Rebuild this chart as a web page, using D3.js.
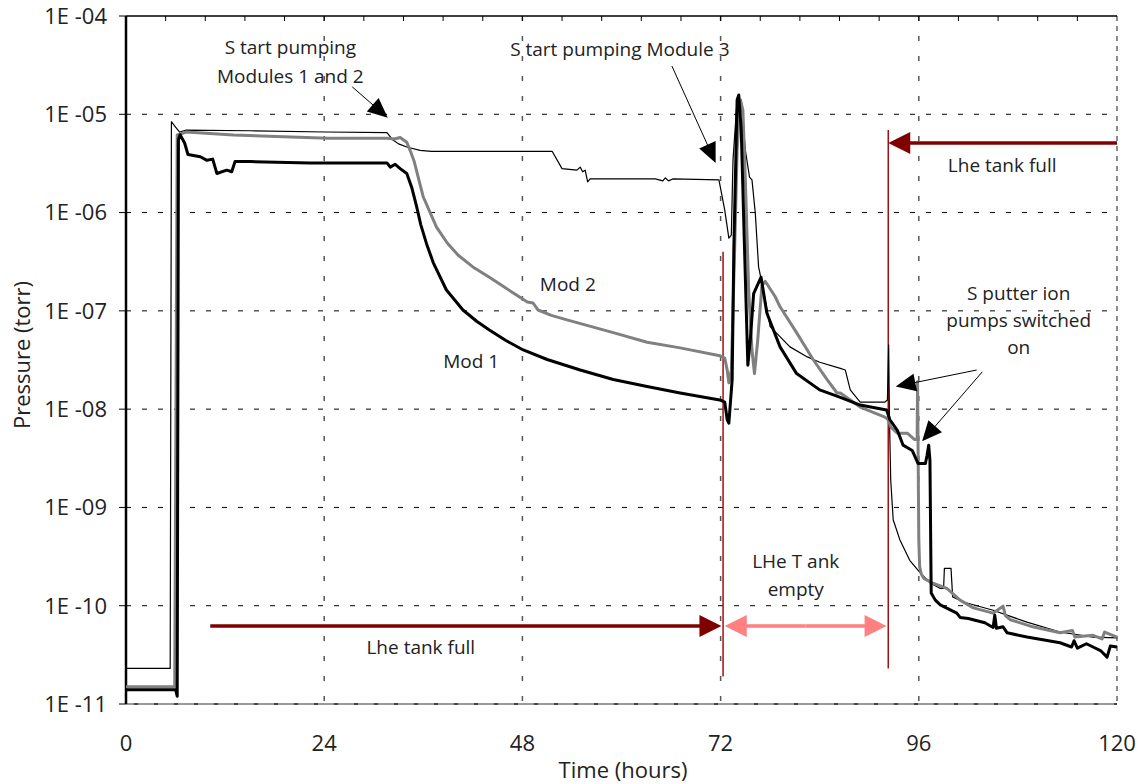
<!DOCTYPE html>
<html>
<head>
<meta charset="utf-8">
<script src="https://cdn.jsdelivr.net/npm/d3@7"></script>
<style>
body { margin: 0; background: #fff; }
text { font-family: "Open Sans", sans-serif; fill: #222; }
</style>
</head>
<body>
<script>
// hours vs pressure (torr)
var mod1 = [[0,1.4e-11],[6.0,1.4e-11],[6.2,1.2e-11],[6.35,5.5e-6],[6.55,6.2e-6],[7.1,5.1e-6],[7.5,3.9e-6],[9.0,3.7e-6],[9.8,3.4e-6],[10.5,3.5e-6],[11.0,2.5e-6],[12.2,2.7e-6],[12.8,2.6e-6],[13.2,3.3e-6],[15.1,3.3e-6],[22.3,3.2e-6],[31.6,3.2e-6],[32.0,2.9e-6],[32.6,3.1e-6],[33.2,2.8e-6],[34.0,2.5e-6],[34.6,1.8e-6],[35.2,1.14e-6],[35.7,7.5e-7],[36.4,4.8e-7],[37.2,3.1e-7],[38.8,1.63e-7],[40.8,1.02e-7],[42.5,7.8e-8],[44.0,6.4e-8],[46.0,5.0e-8],[48.1,4.0e-8],[51.0,3.2e-8],[55.0,2.5e-8],[59.0,2.0e-8],[63.1,1.7e-8],[67.1,1.46e-8],[71.9,1.24e-8],[72.5,1.18e-8],[72.8,7.8e-9],[73.0,7.2e-9],[73.4,2.0e-8],[73.6,4.2e-7],[74.0,1.4e-5],[74.2,1.57e-5],[74.5,6.9e-6],[74.9,4.2e-7],[75.3,2.8e-8],[75.6,5.1e-8],[76.0,1.5e-7],[76.9,2.2e-7],[77.6,9.5e-8],[79.2,4.3e-8],[81.2,2.3e-8],[84.0,1.57e-8],[86.5,1.32e-8],[88.9,1.1e-8],[92.1,9.8e-9],[92.5,7.8e-9],[93.4,6.1e-9],[94.1,4.3e-9],[95.2,3.8e-9],[95.9,2.8e-9],[96.8,2.8e-9],[97.0,3.4e-9],[97.2,4.3e-9],[97.35,3.0e-9],[97.5,1.35e-10],[98.0,1.14e-10],[98.6,1.02e-10],[100.6,8.4e-11],[101.0,7.6e-11],[102.0,7.4e-11],[104.0,6.7e-11],[105.0,6.0e-11],[105.2,8.0e-11],[105.4,5.9e-11],[106.2,6.1e-11],[106.7,5.3e-11],[109.1,4.8e-11],[113.1,4.2e-11],[114.5,3.8e-11],[114.8,4.4e-11],[115.2,3.7e-11],[116.3,4.1e-11],[117.1,3.8e-11],[118.0,3.5e-11],[118.8,3.0e-11],[119.2,3.9e-11],[120,3.8e-11]];

var mod2 = [[0,1.5e-11],[5.9,1.5e-11],[6.2,6.15e-6],[7.3,6.6e-6],[13.0,6.15e-6],[24.5,5.7e-6],[31.6,5.7e-6],[32.5,5.6e-6],[33.2,5.8e-6],[34.0,5.2e-6],[34.4,4.3e-6],[34.9,3.3e-6],[36.0,1.44e-6],[37.6,7.1e-7],[38.9,4.9e-7],[40.2,3.7e-7],[42.0,2.8e-7],[44.0,2.2e-7],[46.9,1.52e-7],[48.6,1.23e-7],[49.3,1.2e-7],[49.9,1.02e-7],[51.5,9.0e-8],[53.4,8.1e-8],[59.0,6.0e-8],[63.1,4.8e-8],[67.1,4.2e-8],[71.9,3.5e-8],[72.5,3.3e-8],[72.8,2.5e-8],[73.0,1.85e-8],[73.3,2.5e-8],[73.7,4.2e-7],[74.0,4.3e-6],[74.4,1.4e-5],[74.7,1.1e-5],[75.0,2.1e-6],[75.4,1.63e-7],[75.8,4.0e-8],[76.1,2.3e-8],[76.5,5.1e-8],[77.0,1.8e-7],[77.4,2.0e-7],[78.6,1.4e-7],[79.2,1.1e-7],[81.2,6.0e-8],[83.2,3.2e-8],[84.9,2.0e-8],[86.1,1.46e-8],[86.5,1.46e-8],[88.9,1.05e-8],[91.9,8.3e-9],[92.3,7.8e-9],[92.6,6.6e-9],[93.4,5.7e-9],[94.6,5.7e-9],[95.5,4.9e-9],[95.8,4.9e-9],[95.85,1.9e-8],[96.0,4.7e-10],[96.1,2.5e-10],[96.3,2.1e-10],[96.6,1.9e-10],[97.7,1.7e-10],[99.4,1.5e-10],[101.0,1.14e-10],[102.6,9.5e-11],[105.0,8.4e-11],[106.2,9.9e-11],[106.5,7.9e-11],[107.1,7.2e-11],[109.8,6.1e-11],[113.1,5.3e-11],[114.6,5.6e-11],[114.9,4.8e-11],[117.1,5.0e-11],[118.2,4.6e-11],[118.5,5.4e-11],[120,4.8e-11]];

var mod3 = [[0,2.3e-11],[5.35,2.3e-11],[5.5,8.4e-6],[6.0,7.4e-6],[6.5,6.6e-6],[7.3,6.9e-6],[15,6.8e-6],[24.2,6.6e-6],[31.6,6.5e-6],[32.3,5.5e-6],[33.0,5.0e-6],[34.0,4.65e-6],[35.6,4.3e-6],[37.0,4.2e-6],[51.6,4.2e-6],[52.8,2.8e-6],[54.6,2.7e-6],[55.0,2.9e-6],[55.3,2.6e-6],[55.6,2.7e-6],[55.9,2.05e-6],[56.2,2.2e-6],[64.1,2.2e-6],[65.0,2.1e-6],[65.3,2.25e-6],[65.7,2.1e-6],[66.2,2.2e-6],[71.8,2.15e-6],[72.5,1.06e-6],[73.0,5.5e-7],[73.3,5.9e-7],[73.5,3.4e-6],[74.0,1.4e-5],[74.5,1.4e-5],[75.0,4.3e-6],[75.5,2.3e-6],[75.8,2.15e-6],[76.2,9.9e-7],[76.6,2.8e-7],[77.1,1.75e-7],[78.0,6.9e-8],[80.4,4.3e-8],[82.5,3.4e-8],[84.0,3.0e-8],[86.5,2.6e-8],[87.1,2.5e-8],[87.7,1.57e-8],[88.9,1.18e-8],[91.9,1.18e-8],[92.2,1.24e-8],[92.35,4.5e-8],[92.45,7.8e-9],[92.6,1.9e-9],[92.9,7.5e-10],[93.7,4.7e-10],[94.9,2.9e-10],[96.1,2.2e-10],[97.4,1.7e-10],[98.6,1.5e-10],[99.0,1.5e-10],[99.1,2.4e-10],[99.9,2.4e-10],[100.1,1.23e-10],[101.4,1.09e-10],[105.0,9.0e-11],[109.1,6.8e-11],[113.1,5.4e-11],[117.1,4.8e-11],[120,4.7e-11]];

var xTicks = [0, 24, 48, 72, 96, 120];
var yTicks = [1e-4, 1e-5, 1e-6, 1e-7, 1e-8, 1e-9, 1e-10, 1e-11];
var yLabels = ['1E -04', '1E -05', '1E -06', '1E -07', '1E -08', '1E -09', '1E -10', '1E -11'];

// tank state markers (hours)
var tankEmptyStart = 72.3, tankEmptyEnd = 92.3;

var W = 1141, H = 784;
var svg = d3.select('body').append('svg').attr('width', W).attr('height', H);

var x = d3.scaleLinear().domain([0, 120]).range([126, 1117]);
var y = d3.scaleLog().domain([1e-11, 1e-4]).range([704, 16]);

// grid
svg.append('g').selectAll('line').data(yTicks.slice(1, 7)).enter().append('line')
    .attr('x1', x(0)).attr('x2', x(120))
    .attr('y1', function(d) { return y(d); }).attr('y2', function(d) { return y(d); })
    .attr('stroke', '#000').attr('stroke-width', 1).attr('stroke-dasharray', '5,11');

svg.append('g').selectAll('line').data([24, 48, 72, 96]).enter().append('line')
    .attr('x1', function(d) { return x(d); }).attr('x2', function(d) { return x(d); })
    .attr('y1', y(1e-4)).attr('y2', y(1e-11))
    .attr('stroke', '#555').attr('stroke-width', 1.5).attr('stroke-dasharray', '5,15');

// frame
svg.append('line').attr('x1', x(120)).attr('x2', x(120)).attr('y1', y(1e-4)).attr('y2', y(1e-11))
    .attr('stroke', '#666').attr('stroke-width', 1.5).attr('stroke-dasharray', '5,5');
svg.append('line').attr('x1', x(0)).attr('x2', x(120)).attr('y1', y(1e-11)).attr('y2', y(1e-11))
    .attr('stroke', '#999').attr('stroke-width', 2);
svg.append('line').attr('x1', x(0)).attr('x2', x(120)).attr('y1', y(1e-11)).attr('y2', y(1e-11))
    .attr('stroke', '#444').attr('stroke-width', 2).attr('stroke-dasharray', '4,16').attr('stroke-dashoffset', -8);
svg.append('line').attr('x1', x(0)).attr('x2', x(120)).attr('y1', y(1e-4)).attr('y2', y(1e-4))
    .attr('stroke', '#000').attr('stroke-width', 1.5);
svg.append('g').selectAll('line').data(d3.range(4.8, 120, 4.8)).enter().append('line')
    .attr('x1', function(d) { return x(d); }).attr('x2', function(d) { return x(d); })
    .attr('y1', y(1e-4)).attr('y2', y(1e-4) + 5)
    .attr('stroke', '#000').attr('stroke-width', 1);
svg.append('line').attr('x1', x(0)).attr('x2', x(0)).attr('y1', y(1e-4)).attr('y2', y(1e-11))
    .attr('stroke', '#000').attr('stroke-width', 2.5);

// axes labels
var yl = svg.append('g');
yl.selectAll('line').data(yTicks).enter().append('line')
    .attr('x1', x(0) - 7).attr('x2', x(0))
    .attr('y1', function(d) { return y(d); }).attr('y2', function(d) { return y(d); })
    .attr('stroke', '#000').attr('stroke-width', 1);
yl.selectAll('text').data(yTicks).enter().append('text')
    .attr('x', x(0) - 19).attr('y', function(d) { return y(d); }).attr('dy', '0.36em')
    .attr('text-anchor', 'end').style('font-size', '22px')
    .text(function(d, i) { return yLabels[i]; });

svg.append('g').selectAll('text').data(xTicks).enter().append('text')
    .attr('x', function(d) { return x(d); }).attr('y', 751)
    .attr('text-anchor', 'middle').style('font-size', '22px')
    .text(function(d) { return d; });

svg.append('text').attr('x', 623).attr('y', 778).attr('text-anchor', 'middle')
    .style('font-size', '22px').text('Time (hours)');
svg.append('text').attr('transform', 'translate(30,355) rotate(-90)').attr('text-anchor', 'middle')
    .style('font-size', '22px').text('Pressure (torr)');

// tank boundary lines
svg.append('line').attr('x1', x(tankEmptyStart)).attr('x2', x(tankEmptyStart))
    .attr('y1', y(4.0e-7)).attr('y2', y(1.9e-11)).attr('stroke', '#a01010').attr('stroke-width', 1.5);
svg.append('line').attr('x1', x(tankEmptyEnd)).attr('x2', x(tankEmptyEnd))
    .attr('y1', y(6.9e-6)).attr('y2', y(2.3e-11)).attr('stroke', '#a01010').attr('stroke-width', 1.5);

// series
var line = d3.line().x(function(d) { return x(d[0]); }).y(function(d) { return y(d[1]); });
svg.append('path').datum(mod3).attr('d', line).attr('fill', 'none')
    .attr('stroke', '#000').attr('stroke-width', 1.2).attr('stroke-linejoin', 'round');
svg.append('path').datum(mod2).attr('d', line).attr('fill', 'none')
    .attr('stroke', '#808080').attr('stroke-width', 3).attr('stroke-linejoin', 'round');
svg.append('path').datum(mod1).attr('d', line).attr('fill', 'none')
    .attr('stroke', '#000').attr('stroke-width', 3).attr('stroke-linejoin', 'round');

// arrows
function arrow(t0, p0, t1, p1, color, width, len, half) {
    var x0 = x(t0), y0 = y(p0), x1 = x(t1), y1 = y(p1);
    var dx = x1 - x0, dy = y1 - y0, L = Math.sqrt(dx * dx + dy * dy);
    var ux = dx / L, uy = dy / L;
    var bx = x1 - ux * len, by = y1 - uy * len;
    svg.append('line').attr('x1', x0).attr('y1', y0).attr('x2', bx + ux * 2).attr('y2', by + uy * 2)
        .attr('stroke', color).attr('stroke-width', width);
    svg.append('polygon')
        .attr('points', [[x1, y1], [bx - uy * half, by + ux * half], [bx + uy * half, by - ux * half]].join(' '))
        .attr('fill', color);
}

arrow(27.4, 1.9e-5, 31.7, 9.2e-6, '#000', 1, 20, 9);
arrow(66.1, 3.1e-5, 71.4, 3.2e-6, '#000', 1, 20, 9);
arrow(103.0, 2.5e-8, 93.2, 1.7e-8, '#000', 1, 20, 9);
arrow(103.7, 2.4e-8, 96.4, 4.7e-9, '#000', 1, 20, 9);

arrow(120, 5.1e-6, tankEmptyEnd, 5.1e-6, '#800000', 3.5, 22, 11);
arrow(10.2, 6.2e-11, tankEmptyStart - 0.2, 6.2e-11, '#800000', 3.5, 22, 11);
arrow(82.3, 6.2e-11, tankEmptyStart + 0.2, 6.2e-11, '#ff8080', 3.5, 22, 11);
arrow(82.3, 6.2e-11, tankEmptyEnd - 0.2, 6.2e-11, '#ff8080', 3.5, 22, 11);

// annotation text
var notes = [
    [19.9, 4.1e-5, 'S tart pumping'],
    [19.9, 2.1e-5, 'Modules 1 and 2'],
    [59.8, 3.9e-5, 'S tart pumping Module 3'],
    [53.5, 1.6e-7, 'Mod 2'],
    [41.8, 2.6e-8, 'Mod 1'],
    [106.1, 2.6e-6, 'Lhe tank full'],
    [108.1, 1.3e-7, 'S putter ion'],
    [108.1, 6.9e-8, 'pumps switched'],
    [108.1, 3.6e-8, 'on'],
    [35.7, 3.2e-11, 'Lhe tank full'],
    [81.1, 2.4e-10, 'LHe T ank'],
    [81.1, 1.26e-10, 'empty']
];
svg.append('g').selectAll('text').data(notes).enter().append('text')
    .attr('x', function(d) { return x(d[0]); }).attr('y', function(d) { return y(d[1]); })
    .attr('text-anchor', 'middle').style('font-size', '19px')
    .text(function(d) { return d[2]; });
</script>
</body>
</html>
